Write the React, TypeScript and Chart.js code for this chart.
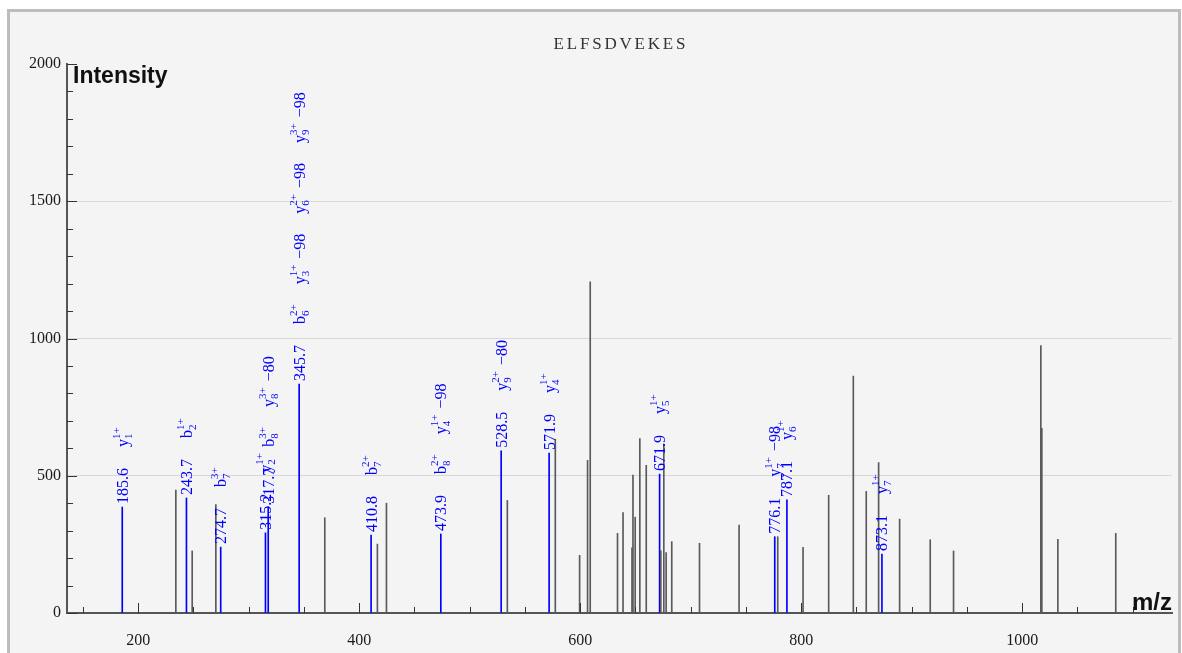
import React, { useEffect, useRef } from 'react';
import { Chart, registerables } from 'chart.js';

Chart.register(...registerables);

const TITLE = 'ELFSDVEKES';
const X_AXIS_TITLE = 'm/z';
const Y_AXIS_TITLE = 'Intensity';
const X_MIN = 135.6;
const X_MAX = 1135.6;
const X_MINOR_STEP = 50;
const Y_MIN = 0;
const Y_MAX = 2000;
const Y_MINOR_STEP = 100;
const X_TICK_LABELS = [200, 400, 600, 800, 1000];
const Y_TICK_LABELS = [0, 500, 1000, 1500, 2000];
const Y_GRID_VALUES = [500, 1000, 1500];

// unannotated peaks
const grayMz = [
  234.1, 248.9, 270.3, 368.9, 416.5, 424.7, 534.1, 577.5, 599.5, 606.7,
  609.1, 633.8, 638.8, 646.9, 647.8, 649.8, 654.0, 659.8, 673.0, 675.7,
  677.8, 682.9, 708.0, 743.8, 778.8, 801.7, 824.9, 847.2, 858.9, 870.1,
  889.1, 916.8, 937.9, 1016.9, 1017.8, 1032.3, 1084.7,
];
const grayIntensity = [
  448, 226, 395, 347, 251, 400, 410, 633, 210, 556,
  1206, 290, 366, 237, 502, 349, 635, 538, 227, 616,
  220, 260, 254, 320, 278, 239, 429, 863, 443, 548,
  342, 267, 226, 974, 673, 268, 290,
];

// annotated (matched) peaks
const ionMz = [185.6, 243.7, 274.7, 315.2, 317.7, 345.7, 410.8, 473.9, 528.5, 571.9, 671.9, 776.1, 787.1, 873.1];
const ionIntensity = [386, 419, 240, 292, 387, 834, 284, 288, 591, 583, 506, 278, 412, 215];
const ionMzLabels = ['185.6', '243.7', '274.7', '315.2', '317.7', '345.7', '410.8', '473.9', '528.5', '571.9', '671.9', '776.1', '787.1', '873.1'];
const ionLabels = [
  ['y_1^1+'],
  ['b_2^1+'],
  ['b_7^3+'],
  ['y_2^1+'],
  ['b_8^3+', 'y_8^3+ −80'],
  ['b_6^2+', 'y_3^1+ −98', 'y_6^2+ −98', 'y_9^3+ −98'],
  ['b_7^2+'],
  ['b_8^2+', 'y_4^1+ −98'],
  ['y_9^2+ −80'],
  ['y_4^1+'],
  ['y_5^1+'],
  ['y_7^1+ −98'],
  ['y_6^1+'],
  ['y_7^1+'],
];

const SERIF = '"Liberation Serif", "DejaVu Serif", serif';
const F_MAIN = `16px ${SERIF}`;
const F_SMALL = `11px ${SERIF}`;

function stepValues(min: number, max: number, step: number) {
  const out: number[] = [];
  for (let v = Math.ceil(min / step) * step; v <= max; v += step) out.push(v);
  return out;
}

const annotatePlugin = {
  id: 'annotate',
  afterDatasetsDraw(chart: any) {
    const { ctx, chartArea, scales } = chart;
    ctx.save();
    // inward ticks
    ctx.strokeStyle = '#333';
    ctx.lineWidth = 1;
    const xs = scales.x;
    xs.ticks.forEach((t: any) => {
      const v = t.value;
      const px = Math.round(xs.getPixelForValue(v)) + 0.5;
      const len = X_TICK_LABELS.includes(v) ? 10 : 6;
      ctx.beginPath();
      ctx.moveTo(px, chartArea.bottom);
      ctx.lineTo(px, chartArea.bottom - len);
      ctx.stroke();
    });
    const ys = scales.y;
    ys.ticks.forEach((t: any) => {
      const v = t.value;
      const py = Math.round(ys.getPixelForValue(v)) + 0.5;
      const len = Y_TICK_LABELS.includes(v) ? 10 : 6;
      ctx.beginPath();
      ctx.moveTo(chartArea.left, py);
      ctx.lineTo(chartArea.left + len, py);
      ctx.stroke();
    });

    // titles
    ctx.fillStyle = '#333';
    ctx.font = `17px ${SERIF}`;
    try {
      (ctx as any).letterSpacing = '2.8px';
    } catch (e) {
      /* ignore */
    }
    ctx.textAlign = 'center';
    ctx.textBaseline = 'alphabetic';
    ctx.fillText(TITLE, (chartArea.left + chartArea.right) / 2 + 1.4, 48.5);
    try {
      (ctx as any).letterSpacing = '0px';
    } catch (e) {
      /* ignore */
    }
    ctx.fillStyle = '#111';
    ctx.font = 'bold 23px "Liberation Sans", Arial, sans-serif';
    ctx.textAlign = 'left';
    ctx.fillText(Y_AXIS_TITLE, chartArea.left + 6, chartArea.top + 19);
    ctx.font = 'bold 24px "Liberation Sans", Arial, sans-serif';
    ctx.textAlign = 'right';
    ctx.fillText(X_AXIS_TITLE, chartArea.right, chartArea.bottom - 3);

    // peak annotations
    const meta = chart.getDatasetMeta(1);
    ctx.fillStyle = '#0000ff';
    meta.data.forEach((el: any, i: number) => {
      const { x, y } = el.getProps(['x', 'y'], true);
      ctx.save();
      ctx.translate(x, y - 3);
      ctx.rotate(-Math.PI / 2);
      ctx.textAlign = 'left';
      ctx.textBaseline = 'alphabetic';
      let pos = 0;
      ctx.font = F_MAIN;
      ctx.fillText(ionMzLabels[i], pos, 5.5);
      pos += ctx.measureText(ionMzLabels[i]).width + 21;
      ionLabels[i].forEach((lbl) => {
        const m = /^([a-z])_(\d+)\^(\d\+)\s*(.*)$/.exec(lbl);
        if (!m) return;
        ctx.font = F_MAIN;
        ctx.fillText(m[1], pos, 5.5);
        pos += ctx.measureText(m[1]).width;
        ctx.font = F_SMALL;
        ctx.fillText(m[3], pos, -2.5);
        ctx.fillText(m[2], pos, 9.5);
        pos += Math.max(ctx.measureText(m[3]).width, ctx.measureText(m[2]).width);
        if (m[4]) {
          ctx.font = F_MAIN;
          pos += 6;
          ctx.fillText(m[4], pos, 5.5);
          pos += ctx.measureText(m[4]).width;
        }
        pos += 20;
      });
      ctx.restore();
    });
    ctx.restore();
  },
};

export default function App() {
  const ref = useRef<HTMLCanvasElement>(null);
  useEffect(() => {
    if (!ref.current) return;
    const chart = new Chart(ref.current, {
      type: 'bar',
      data: {
        datasets: [
          {
            data: grayMz.map((m, i) => ({ x: m, y: grayIntensity[i] })),
            backgroundColor: '#5a5a5a',
            barThickness: 1,
            grouped: false,
          } as any,
          {
            data: ionMz.map((m, i) => ({ x: m, y: ionIntensity[i] })),
            backgroundColor: '#0000ff',
            barThickness: 1,
            grouped: false,
          } as any,
        ],
      },
      options: {
        responsive: false,
        animation: false,
        devicePixelRatio: 1,
        layout: { padding: { left: 0, right: 10, top: 64, bottom: 0 } },
        plugins: {
          legend: { display: false },
          tooltip: { enabled: false },
          title: { display: false },
        },
        scales: {
          x: {
            type: 'linear',
            min: X_MIN,
            max: X_MAX,
            offset: false,
            grid: { display: true, color: 'rgba(0,0,0,0)', drawTicks: false },
            border: { display: true, color: '#555', width: 2 },
            ticks: {
              autoSkip: false,
              maxRotation: 0,
              padding: 18,
              color: '#1a1a1a',
              font: { family: SERIF, size: 16 },
              callback: (v: any) => (X_TICK_LABELS.includes(Number(v)) ? String(v) : ''),
            },
            afterBuildTicks: (s: any) => {
              s.ticks = stepValues(X_MIN, X_MAX, X_MINOR_STEP).map((v) => ({ value: v }));
            },
            afterFit: (s: any) => {
              s.height = 40;
              s.paddingLeft = 0;
              s.paddingRight = 0;
            },
          },
          y: {
            type: 'linear',
            min: Y_MIN,
            max: Y_MAX,
            grid: {
              drawTicks: false,
              lineWidth: 1,
              color: (c: any) => (Y_GRID_VALUES.includes(c.tick?.value) ? '#d8d8d8' : 'rgba(0,0,0,0)'),
            },
            border: { display: true, color: '#555', width: 2 },
            ticks: {
              autoSkip: false,
              padding: 6,
              color: '#1a1a1a',
              font: { family: SERIF, size: 16 },
              callback: (v: any) => (Y_TICK_LABELS.includes(Number(v)) ? String(v) : ''),
            },
            afterBuildTicks: (s: any) => {
              s.ticks = stepValues(Y_MIN, Y_MAX, Y_MINOR_STEP).map((v) => ({ value: v }));
            },
            afterFit: (s: any) => {
              s.width = 67;
            },
          },
        },
      } as any,
      plugins: [annotatePlugin],
    });
    return () => chart.destroy();
  }, []);

  return (
    <div style={{ position: 'fixed', left: 0, top: 0, width: 1182, height: 653, overflow: 'hidden', background: '#fff' }}>
      <div
        style={{
          position: 'absolute',
          left: 7,
          top: 9,
          width: 1168,
          height: 700,
          border: '3px solid #bdbdbd',
          background: '#f4f4f4',
        }}
      />
      <canvas
        ref={ref}
        width={1182}
        height={653}
        style={{ position: 'absolute', left: 0, top: 0, width: 1182, height: 653 }}
      />
    </div>
  );
}
